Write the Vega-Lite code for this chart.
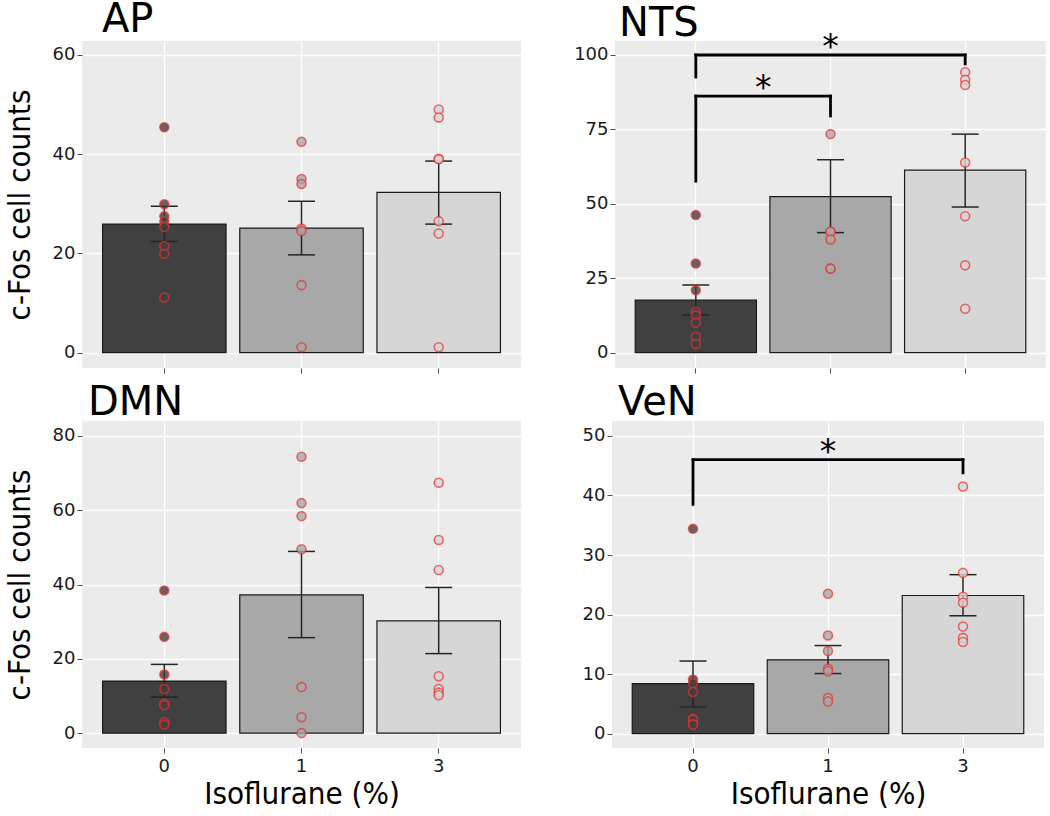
{
  "$schema": "https://vega.github.io/schema/vega-lite/v6.json",
  "padding": {"left": 4, "top": 0, "right": 0, "bottom": 0},
  "background": "white",
  "datasets": {
    "bars": [
      {"panel": "AP", "group": "0", "mean": 25.9, "lo": 22.4, "hi": 29.5},
      {"panel": "AP", "group": "1", "mean": 25.1, "lo": 19.7, "hi": 30.5},
      {"panel": "AP", "group": "3", "mean": 32.3, "lo": 25.9, "hi": 38.6},
      {"panel": "NTS", "group": "0", "mean": 17.6, "lo": 12.6, "hi": 22.7},
      {"panel": "NTS", "group": "1", "mean": 52.4, "lo": 40.3, "hi": 64.8},
      {"panel": "NTS", "group": "3", "mean": 61.3, "lo": 48.9, "hi": 73.4},
      {"panel": "DMN", "group": "0", "mean": 14.0, "lo": 9.7, "hi": 18.5},
      {"panel": "DMN", "group": "1", "mean": 37.2, "lo": 25.7, "hi": 48.9},
      {"panel": "DMN", "group": "3", "mean": 30.2, "lo": 21.4, "hi": 39.2},
      {"panel": "VeN", "group": "0", "mean": 8.4, "lo": 4.5, "hi": 12.2},
      {"panel": "VeN", "group": "1", "mean": 12.4, "lo": 10.1, "hi": 14.8},
      {"panel": "VeN", "group": "3", "mean": 23.2, "lo": 19.8, "hi": 26.7}
    ],
    "points": [
      {"panel": "AP", "group": "0", "count": 45.4}, {"panel": "AP", "group": "0", "count": 29.9}, {"panel": "AP", "group": "0", "count": 27.5}, {"panel": "AP", "group": "0", "count": 26.4}, {"panel": "AP", "group": "0", "count": 25.3}, {"panel": "AP", "group": "0", "count": 21.5}, {"panel": "AP", "group": "0", "count": 19.9}, {"panel": "AP", "group": "0", "count": 11.1},
      {"panel": "AP", "group": "1", "count": 42.5}, {"panel": "AP", "group": "1", "count": 35.0}, {"panel": "AP", "group": "1", "count": 34.0}, {"panel": "AP", "group": "1", "count": 25.0}, {"panel": "AP", "group": "1", "count": 24.5}, {"panel": "AP", "group": "1", "count": 13.6}, {"panel": "AP", "group": "1", "count": 1.1},
      {"panel": "AP", "group": "3", "count": 49.0}, {"panel": "AP", "group": "3", "count": 47.4}, {"panel": "AP", "group": "3", "count": 39.0}, {"panel": "AP", "group": "3", "count": 39.0}, {"panel": "AP", "group": "3", "count": 26.5}, {"panel": "AP", "group": "3", "count": 24.0}, {"panel": "AP", "group": "3", "count": 1.1},
      {"panel": "NTS", "group": "0", "count": 46.2}, {"panel": "NTS", "group": "0", "count": 29.9}, {"panel": "NTS", "group": "0", "count": 20.9}, {"panel": "NTS", "group": "0", "count": 13.7}, {"panel": "NTS", "group": "0", "count": 12.5}, {"panel": "NTS", "group": "0", "count": 10.0}, {"panel": "NTS", "group": "0", "count": 5.3}, {"panel": "NTS", "group": "0", "count": 2.9},
      {"panel": "NTS", "group": "1", "count": 73.4}, {"panel": "NTS", "group": "1", "count": 40.6}, {"panel": "NTS", "group": "1", "count": 40.6}, {"panel": "NTS", "group": "1", "count": 38.0}, {"panel": "NTS", "group": "1", "count": 28.2}, {"panel": "NTS", "group": "1", "count": 28.2},
      {"panel": "NTS", "group": "3", "count": 94.2}, {"panel": "NTS", "group": "3", "count": 91.7}, {"panel": "NTS", "group": "3", "count": 89.9}, {"panel": "NTS", "group": "3", "count": 63.9}, {"panel": "NTS", "group": "3", "count": 45.8}, {"panel": "NTS", "group": "3", "count": 29.3}, {"panel": "NTS", "group": "3", "count": 14.7},
      {"panel": "DMN", "group": "0", "count": 38.4}, {"panel": "DMN", "group": "0", "count": 25.9}, {"panel": "DMN", "group": "0", "count": 15.8}, {"panel": "DMN", "group": "0", "count": 11.9}, {"panel": "DMN", "group": "0", "count": 7.9}, {"panel": "DMN", "group": "0", "count": 7.5}, {"panel": "DMN", "group": "0", "count": 3.0}, {"panel": "DMN", "group": "0", "count": 2.3},
      {"panel": "DMN", "group": "1", "count": 74.4}, {"panel": "DMN", "group": "1", "count": 61.9}, {"panel": "DMN", "group": "1", "count": 58.4}, {"panel": "DMN", "group": "1", "count": 49.5}, {"panel": "DMN", "group": "1", "count": 12.4}, {"panel": "DMN", "group": "1", "count": 4.3}, {"panel": "DMN", "group": "1", "count": 0.0},
      {"panel": "DMN", "group": "3", "count": 67.4}, {"panel": "DMN", "group": "3", "count": 52.0}, {"panel": "DMN", "group": "3", "count": 43.9}, {"panel": "DMN", "group": "3", "count": 15.3}, {"panel": "DMN", "group": "3", "count": 11.9}, {"panel": "DMN", "group": "3", "count": 10.9}, {"panel": "DMN", "group": "3", "count": 10.2},
      {"panel": "VeN", "group": "0", "count": 34.4}, {"panel": "VeN", "group": "0", "count": 9.1}, {"panel": "VeN", "group": "0", "count": 8.5}, {"panel": "VeN", "group": "0", "count": 7.0}, {"panel": "VeN", "group": "0", "count": 2.5}, {"panel": "VeN", "group": "0", "count": 2.3}, {"panel": "VeN", "group": "0", "count": 1.6}, {"panel": "VeN", "group": "0", "count": 1.5},
      {"panel": "VeN", "group": "1", "count": 23.5}, {"panel": "VeN", "group": "1", "count": 16.5}, {"panel": "VeN", "group": "1", "count": 13.9}, {"panel": "VeN", "group": "1", "count": 10.9}, {"panel": "VeN", "group": "1", "count": 10.5}, {"panel": "VeN", "group": "1", "count": 6.0}, {"panel": "VeN", "group": "1", "count": 5.4},
      {"panel": "VeN", "group": "3", "count": 41.5}, {"panel": "VeN", "group": "3", "count": 27.0}, {"panel": "VeN", "group": "3", "count": 23.0}, {"panel": "VeN", "group": "3", "count": 22.0}, {"panel": "VeN", "group": "3", "count": 18.0}, {"panel": "VeN", "group": "3", "count": 16.1}, {"panel": "VeN", "group": "3", "count": 15.4}
    ],
    "brackets": [
      {"panel": "NTS", "from": 1, "to": 3, "level": 100, "legFrom": 92.6, "legTo": 97.0, "mid": 2, "label": "*"},
      {"panel": "NTS", "from": 1, "to": 2, "level": 86.2, "legFrom": 57.6, "legTo": 79.5, "mid": 1.5, "label": "*"},
      {"panel": "VeN", "from": 1, "to": 3, "level": 46.0, "legFrom": 38.5, "legTo": 43.8, "mid": 2, "label": "*"}
    ]
  },
  "vconcat": [
    {
      "hconcat": [
        {
          "width": 439, "height": 327,
          "title": {"text": "AP", "dx": 20, "offset": 1},
          "layer": [
            {"data": {"name": "bars"}, "transform": [{"filter": "datum.panel === 'AP'"}],
             "mark": {"type": "bar", "stroke": "#1a1a1a", "strokeWidth": 1.2},
             "encoding": {
               "x": {"field": "group", "type": "nominal", "scale": {"domain": ["0", "1", "3"], "paddingInner": 0.1, "paddingOuter": 0.15}, "axis": {"labels": false, "title": null}},
               "y": {"field": "mean", "type": "quantitative", "scale": {"domain": [-3.1, 62.8], "nice": false, "zero": false}, "axis": {"values": [0, 20, 40, 60], "title": "c-Fos cell counts"}},
               "fill": {"field": "group", "type": "nominal", "scale": {"domain": ["0", "1", "3"], "range": ["#404040", "#a8a8a8", "#d6d6d6"]}, "legend": null}
             }},
            {"data": {"name": "bars"}, "transform": [{"filter": "datum.panel === 'AP'"}],
             "mark": {"type": "rule", "color": "#262626", "strokeWidth": 1.5},
             "encoding": {"x": {"field": "group", "type": "nominal"}, "y": {"field": "lo", "type": "quantitative", "title": "c-Fos cell counts"}, "y2": {"field": "hi"}}},
            {"data": {"name": "bars"}, "transform": [{"filter": "datum.panel === 'AP'"}],
             "mark": {"type": "tick", "orient": "horizontal", "size": 27, "thickness": 1.5, "color": "#262626", "opacity": 1},
             "encoding": {"x": {"field": "group", "type": "nominal"}, "y": {"field": "lo", "type": "quantitative", "title": "c-Fos cell counts"}}},
            {"data": {"name": "bars"}, "transform": [{"filter": "datum.panel === 'AP'"}],
             "mark": {"type": "tick", "orient": "horizontal", "size": 27, "thickness": 1.5, "color": "#262626", "opacity": 1},
             "encoding": {"x": {"field": "group", "type": "nominal"}, "y": {"field": "hi", "type": "quantitative", "title": "c-Fos cell counts"}}},
            {"data": {"name": "points"}, "transform": [{"filter": "datum.panel === 'AP'"}],
             "mark": {"type": "circle", "size": 80, "stroke": "#e8302e", "strokeOpacity": 0.7, "strokeWidth": 1.6, "fillOpacity": 0.8, "opacity": 1},
             "encoding": {"x": {"field": "group", "type": "nominal"}, "y": {"field": "count", "type": "quantitative", "title": "c-Fos cell counts"}, "fill": {"field": "group", "type": "nominal"}}}
          ]
        },
        {
          "width": 431, "height": 327,
          "title": {"text": "NTS", "dx": 4, "offset": -12},
          "resolve": {"scale": {"x": "independent"}},
          "layer": [
            {"layer": [
              {"data": {"name": "bars"}, "transform": [{"filter": "datum.panel === 'NTS'"}],
               "mark": {"type": "bar", "stroke": "#1a1a1a", "strokeWidth": 1.2},
               "encoding": {
                 "x": {"field": "group", "type": "nominal", "scale": {"domain": ["0", "1", "3"], "paddingInner": 0.1, "paddingOuter": 0.15}, "axis": {"labels": false, "title": null}},
                 "y": {"field": "mean", "type": "quantitative", "scale": {"domain": [-5.2, 104.7], "nice": false, "zero": false}, "axis": {"values": [0, 25, 50, 75, 100], "title": null}},
                 "fill": {"field": "group", "type": "nominal", "scale": {"domain": ["0", "1", "3"], "range": ["#404040", "#a8a8a8", "#d6d6d6"]}, "legend": null}
               }},
              {"data": {"name": "bars"}, "transform": [{"filter": "datum.panel === 'NTS'"}],
               "mark": {"type": "rule", "color": "#262626", "strokeWidth": 1.5},
               "encoding": {"x": {"field": "group", "type": "nominal"}, "y": {"field": "lo", "type": "quantitative", "title": null}, "y2": {"field": "hi"}}},
              {"data": {"name": "bars"}, "transform": [{"filter": "datum.panel === 'NTS'"}],
               "mark": {"type": "tick", "orient": "horizontal", "size": 27, "thickness": 1.5, "color": "#262626", "opacity": 1},
               "encoding": {"x": {"field": "group", "type": "nominal"}, "y": {"field": "lo", "type": "quantitative", "title": null}}},
              {"data": {"name": "bars"}, "transform": [{"filter": "datum.panel === 'NTS'"}],
               "mark": {"type": "tick", "orient": "horizontal", "size": 27, "thickness": 1.5, "color": "#262626", "opacity": 1},
               "encoding": {"x": {"field": "group", "type": "nominal"}, "y": {"field": "hi", "type": "quantitative", "title": null}}},
              {"data": {"name": "points"}, "transform": [{"filter": "datum.panel === 'NTS'"}],
               "mark": {"type": "circle", "size": 80, "stroke": "#e8302e", "strokeOpacity": 0.7, "strokeWidth": 1.6, "fillOpacity": 0.8, "opacity": 1},
               "encoding": {"x": {"field": "group", "type": "nominal"}, "y": {"field": "count", "type": "quantitative", "title": null}, "fill": {"field": "group", "type": "nominal"}}}
            ]},
            {"data": {"name": "brackets"}, "transform": [{"filter": "datum.panel === 'NTS'"}],
             "layer": [
              {"mark": {"type": "rule", "color": "black", "strokeWidth": 2.8, "strokeCap": "square"},
               "encoding": {"x": {"field": "from", "type": "quantitative", "scale": {"domain": [0.4, 3.6], "nice": false, "zero": false}, "axis": null}, "x2": {"field": "to"}, "y": {"field": "level", "type": "quantitative", "title": null}}},
              {"mark": {"type": "rule", "color": "black", "strokeWidth": 2.8, "strokeCap": "square"},
               "encoding": {"x": {"field": "from", "type": "quantitative"}, "y": {"field": "legFrom", "type": "quantitative", "title": null}, "y2": {"field": "level"}}},
              {"mark": {"type": "rule", "color": "black", "strokeWidth": 2.8, "strokeCap": "square"},
               "encoding": {"x": {"field": "to", "type": "quantitative"}, "y": {"field": "legTo", "type": "quantitative", "title": null}, "y2": {"field": "level"}}},
              {"mark": {"type": "text", "font": "DejaVu Sans", "fontSize": 33, "baseline": "alphabetic", "align": "center", "dy": 3, "color": "black"},
               "encoding": {"x": {"field": "mid", "type": "quantitative"}, "y": {"field": "level", "type": "quantitative", "title": null}, "text": {"field": "label"}}}
            ]}
          ]
        }
      ],
      "spacing": 52
    },
    {
      "hconcat": [
        {
          "width": 439, "height": 327,
          "title": {"text": "DMN", "dx": 6, "offset": -2},
          "layer": [
            {"data": {"name": "bars"}, "transform": [{"filter": "datum.panel === 'DMN'"}],
             "mark": {"type": "bar", "stroke": "#1a1a1a", "strokeWidth": 1.2},
             "encoding": {
               "x": {"field": "group", "type": "nominal", "scale": {"domain": ["0", "1", "3"], "paddingInner": 0.1, "paddingOuter": 0.15}, "axis": {"labelAngle": 0, "title": "Isoflurane (%)"}},
               "y": {"field": "mean", "type": "quantitative", "scale": {"domain": [-4.0, 84.0], "nice": false, "zero": false}, "axis": {"values": [0, 20, 40, 60, 80], "title": "c-Fos cell counts"}},
               "fill": {"field": "group", "type": "nominal", "scale": {"domain": ["0", "1", "3"], "range": ["#404040", "#a8a8a8", "#d6d6d6"]}, "legend": null}
             }},
            {"data": {"name": "bars"}, "transform": [{"filter": "datum.panel === 'DMN'"}],
             "mark": {"type": "rule", "color": "#262626", "strokeWidth": 1.5},
             "encoding": {"x": {"field": "group", "type": "nominal", "title": "Isoflurane (%)"}, "y": {"field": "lo", "type": "quantitative", "title": "c-Fos cell counts"}, "y2": {"field": "hi"}}},
            {"data": {"name": "bars"}, "transform": [{"filter": "datum.panel === 'DMN'"}],
             "mark": {"type": "tick", "orient": "horizontal", "size": 27, "thickness": 1.5, "color": "#262626", "opacity": 1},
             "encoding": {"x": {"field": "group", "type": "nominal", "title": "Isoflurane (%)"}, "y": {"field": "lo", "type": "quantitative", "title": "c-Fos cell counts"}}},
            {"data": {"name": "bars"}, "transform": [{"filter": "datum.panel === 'DMN'"}],
             "mark": {"type": "tick", "orient": "horizontal", "size": 27, "thickness": 1.5, "color": "#262626", "opacity": 1},
             "encoding": {"x": {"field": "group", "type": "nominal", "title": "Isoflurane (%)"}, "y": {"field": "hi", "type": "quantitative", "title": "c-Fos cell counts"}}},
            {"data": {"name": "points"}, "transform": [{"filter": "datum.panel === 'DMN'"}],
             "mark": {"type": "circle", "size": 80, "stroke": "#e8302e", "strokeOpacity": 0.7, "strokeWidth": 1.6, "fillOpacity": 0.8, "opacity": 1},
             "encoding": {"x": {"field": "group", "type": "nominal", "title": "Isoflurane (%)"}, "y": {"field": "count", "type": "quantitative", "title": "c-Fos cell counts"}, "fill": {"field": "group", "type": "nominal"}}}
          ]
        },
        {
          "width": 432, "height": 327,
          "title": {"text": "VeN", "dx": 6, "offset": -2},
          "resolve": {"scale": {"x": "independent"}},
          "layer": [
            {"layer": [
              {"data": {"name": "bars"}, "transform": [{"filter": "datum.panel === 'VeN'"}],
               "mark": {"type": "bar", "stroke": "#1a1a1a", "strokeWidth": 1.2},
               "encoding": {
                 "x": {"field": "group", "type": "nominal", "scale": {"domain": ["0", "1", "3"], "paddingInner": 0.1, "paddingOuter": 0.15}, "axis": {"labelAngle": 0, "title": "Isoflurane (%)"}},
                 "y": {"field": "mean", "type": "quantitative", "scale": {"domain": [-2.4, 52.5], "nice": false, "zero": false}, "axis": {"values": [0, 10, 20, 30, 40, 50], "title": null}},
                 "fill": {"field": "group", "type": "nominal", "scale": {"domain": ["0", "1", "3"], "range": ["#404040", "#a8a8a8", "#d6d6d6"]}, "legend": null}
               }},
              {"data": {"name": "bars"}, "transform": [{"filter": "datum.panel === 'VeN'"}],
               "mark": {"type": "rule", "color": "#262626", "strokeWidth": 1.5},
               "encoding": {"x": {"field": "group", "type": "nominal", "title": "Isoflurane (%)"}, "y": {"field": "lo", "type": "quantitative", "title": null}, "y2": {"field": "hi"}}},
              {"data": {"name": "bars"}, "transform": [{"filter": "datum.panel === 'VeN'"}],
               "mark": {"type": "tick", "orient": "horizontal", "size": 27, "thickness": 1.5, "color": "#262626", "opacity": 1},
               "encoding": {"x": {"field": "group", "type": "nominal", "title": "Isoflurane (%)"}, "y": {"field": "lo", "type": "quantitative", "title": null}}},
              {"data": {"name": "bars"}, "transform": [{"filter": "datum.panel === 'VeN'"}],
               "mark": {"type": "tick", "orient": "horizontal", "size": 27, "thickness": 1.5, "color": "#262626", "opacity": 1},
               "encoding": {"x": {"field": "group", "type": "nominal", "title": "Isoflurane (%)"}, "y": {"field": "hi", "type": "quantitative", "title": null}}},
              {"data": {"name": "points"}, "transform": [{"filter": "datum.panel === 'VeN'"}],
               "mark": {"type": "circle", "size": 80, "stroke": "#e8302e", "strokeOpacity": 0.7, "strokeWidth": 1.6, "fillOpacity": 0.8, "opacity": 1},
               "encoding": {"x": {"field": "group", "type": "nominal", "title": "Isoflurane (%)"}, "y": {"field": "count", "type": "quantitative", "title": null}, "fill": {"field": "group", "type": "nominal"}}}
            ]},
            {"data": {"name": "brackets"}, "transform": [{"filter": "datum.panel === 'VeN'"}],
             "layer": [
              {"mark": {"type": "rule", "color": "black", "strokeWidth": 2.8, "strokeCap": "square"},
               "encoding": {"x": {"field": "from", "type": "quantitative", "scale": {"domain": [0.4, 3.6], "nice": false, "zero": false}, "axis": null}, "x2": {"field": "to"}, "y": {"field": "level", "type": "quantitative", "title": null}}},
              {"mark": {"type": "rule", "color": "black", "strokeWidth": 2.8, "strokeCap": "square"},
               "encoding": {"x": {"field": "from", "type": "quantitative"}, "y": {"field": "legFrom", "type": "quantitative", "title": null}, "y2": {"field": "level"}}},
              {"mark": {"type": "rule", "color": "black", "strokeWidth": 2.8, "strokeCap": "square"},
               "encoding": {"x": {"field": "to", "type": "quantitative"}, "y": {"field": "legTo", "type": "quantitative", "title": null}, "y2": {"field": "level"}}},
              {"mark": {"type": "text", "font": "DejaVu Sans", "fontSize": 33, "baseline": "alphabetic", "align": "center", "dy": 3, "color": "black"},
               "encoding": {"x": {"field": "mid", "type": "quantitative"}, "y": {"field": "level", "type": "quantitative", "title": null}, "text": {"field": "label"}}}
            ]}
          ]
        }
      ],
      "spacing": 61
    }
  ],
  "spacing": 9,
  "config": {
    "view": {"fill": "#EBEBEB", "stroke": null},
    "title": {"anchor": "start", "frame": "group", "font": "DejaVu Sans", "fontSize": 40, "fontWeight": "normal", "color": "black", "offset": 8, "baseline": "alphabetic"},
    "axis": {
      "domain": false,
      "grid": true,
      "gridColor": "white",
      "gridWidth": 1.3,
      "tickColor": "#4d4d4d",
      "tickSize": 5,
      "tickWidth": 1,
      "labelFont": "DejaVu Sans",
      "labelFontSize": 18,
      "labelColor": "#1a1a1a",
      "labelPadding": 2,
      "titleFont": "DejaVu Sans Condensed",
      "titleFontSize": 31,
      "titleFontWeight": "normal",
      "titleColor": "black"
    },
    "axisY": {"titlePadding": 16},
    "axisX": {"titlePadding": 4, "labelPadding": 4}
  }
}
